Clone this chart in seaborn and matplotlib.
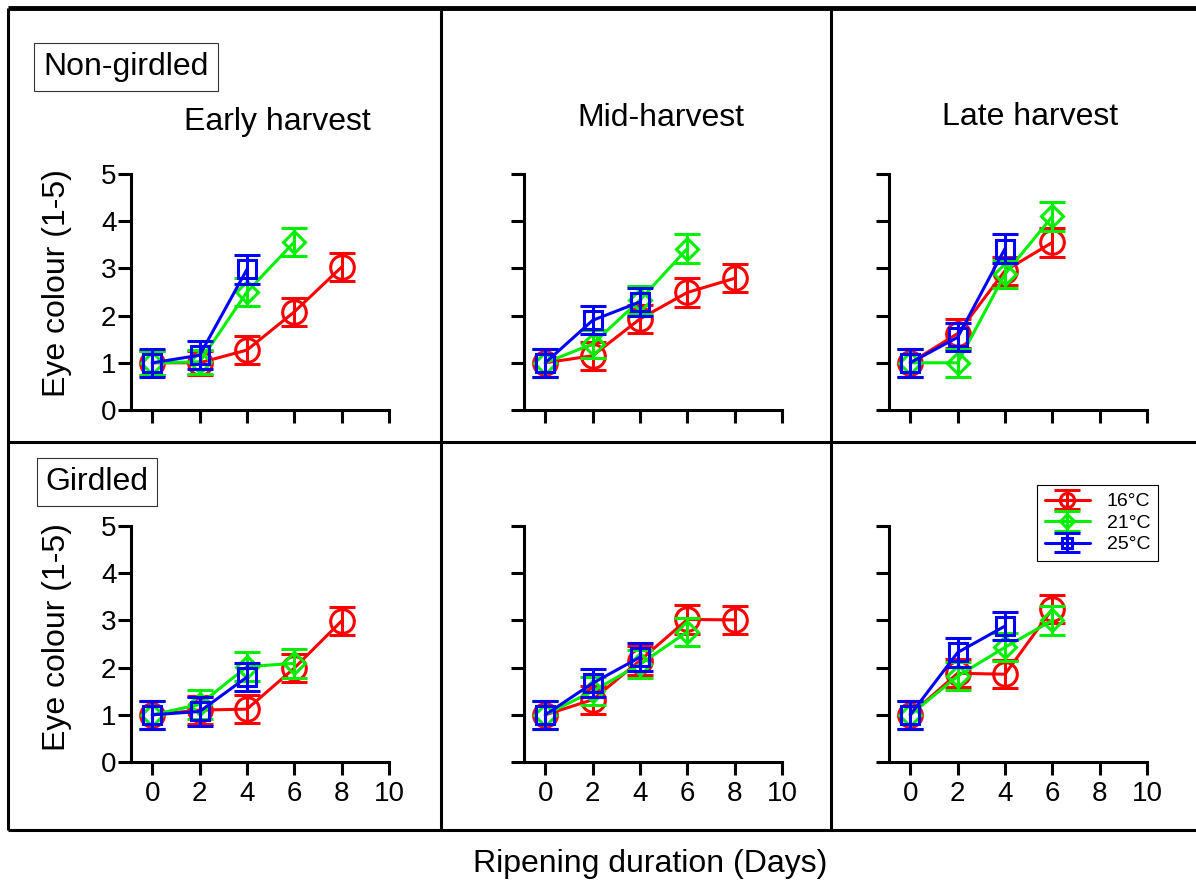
import matplotlib
matplotlib.use("Agg")
import matplotlib.pyplot as plt
import seaborn as sns
from matplotlib.lines import Line2D

# ---------------- data ----------------
days = [0, 2, 4, 6, 8]
temps = ["16°C", "21°C", "25°C"]
colors = ["#FF0000", "#00EE00", "#0000FF"]
markers = ["o", "D", "s"]
harvests = ["Early harvest", "Mid-harvest", "Late harvest"]
treatments = ["Non-girdled", "Girdled"]
x_ticks = [0, 2, 4, 6, 8, 10]
y_ticks = [0, 1, 2, 3, 4, 5]

# Non-girdled
ng_early_16 = [1.0, 1.0, 1.27, 2.08, 3.03]
ng_early_21 = [1.0, 1.02, 2.5, 3.56]
ng_early_25 = [1.0, 1.16, 2.98]
ng_mid_16 = [1.0, 1.15, 1.93, 2.49, 2.79]
ng_mid_21 = [1.0, 1.4, 2.33, 3.42]
ng_mid_25 = [1.0, 1.9, 2.29]
ng_late_16 = [1.0, 1.62, 2.95, 3.55]
ng_late_21 = [1.0, 1.0, 2.88, 4.1]
ng_late_25 = [1.0, 1.54, 3.42]
# Girdled
g_early_16 = [1.0, 1.1, 1.12, 1.99, 2.99]
g_early_21 = [1.0, 1.22, 2.02, 2.09]
g_early_25 = [1.0, 1.07, 1.8]
g_mid_16 = [1.0, 1.32, 2.15, 3.02, 3.01]
g_mid_21 = [1.0, 1.5, 2.07, 2.76]
g_mid_25 = [1.0, 1.67, 2.22]
g_late_16 = [1.0, 1.88, 1.86, 3.24]
g_late_21 = [1.0, 1.82, 2.43, 3.0]
g_late_25 = [1.0, 2.32, 2.88]

# standard errors
ng_early_16_se = [0.25, 0.25, 0.3, 0.3, 0.3]
ng_early_21_se = [0.25, 0.25, 0.3, 0.3]
ng_early_25_se = [0.3, 0.3, 0.3]
ng_mid_16_se = [0.3, 0.3, 0.3, 0.3, 0.3]
ng_mid_21_se = [0.3, 0.3, 0.3, 0.3]
ng_mid_25_se = [0.3, 0.3, 0.3]
ng_late_16_se = [0.3, 0.3, 0.3, 0.3]
ng_late_21_se = [0.3, 0.3, 0.3, 0.3]
ng_late_25_se = [0.3, 0.3, 0.3]
g_early_16_se = [0.3, 0.3, 0.3, 0.3, 0.3]
g_early_21_se = [0.3, 0.3, 0.3, 0.3]
g_early_25_se = [0.3, 0.3, 0.3]
g_mid_16_se = [0.3, 0.3, 0.3, 0.3, 0.3]
g_mid_21_se = [0.3, 0.3, 0.3, 0.3]
g_mid_25_se = [0.3, 0.3, 0.3]
g_late_16_se = [0.3, 0.3, 0.3, 0.3]
g_late_21_se = [0.3, 0.3, 0.3, 0.3]
g_late_25_se = [0.3, 0.3, 0.3]

panels = [
    [[(ng_early_16, ng_early_16_se), (ng_early_21, ng_early_21_se), (ng_early_25, ng_early_25_se)],
     [(ng_mid_16, ng_mid_16_se), (ng_mid_21, ng_mid_21_se), (ng_mid_25, ng_mid_25_se)],
     [(ng_late_16, ng_late_16_se), (ng_late_21, ng_late_21_se), (ng_late_25, ng_late_25_se)]],
    [[(g_early_16, g_early_16_se), (g_early_21, g_early_21_se), (g_early_25, g_early_25_se)],
     [(g_mid_16, g_mid_16_se), (g_mid_21, g_mid_21_se), (g_mid_25, g_mid_25_se)],
     [(g_late_16, g_late_16_se), (g_late_21, g_late_21_se), (g_late_25, g_late_25_se)]],
]

# ---------------- style ----------------
sns.set_theme(style="ticks")
plt.rcParams["font.family"] = ["Liberation Sans", "DejaVu Sans"]
plt.rcParams["text.color"] = "black"

W, H = 1196, 883
fig = plt.figure(figsize=(W / 100, H / 100), dpi=100)
fig.patch.set_facecolor("white")


def fx(px):
    return px / W


def fy(py):
    return 1 - py / H


lefts = [131, 524, 889]
ax_w = 258
row_bottoms = [410, 762]
ax_h = 236
marker_sizes = [17, 11.5, 13]
LW = 2.2

legend_handles = []
for r in range(2):
    for c in range(3):
        ax = fig.add_axes([fx(lefts[c]), fy(row_bottoms[r]), ax_w / W, ax_h / H])
        ax.set_facecolor("white")
        for i, (vals, se) in enumerate(panels[r][c]):
            n = len(vals)
            eb = ax.errorbar(days[:n], vals, yerr=se, fmt="none", ecolor=colors[i],
                             elinewidth=LW, capsize=9.5, capthick=LW,
                             zorder=3 + i, clip_on=False)
            sns.lineplot(x=days[:n], y=vals, ax=ax, color=colors[i], marker=markers[i],
                         markersize=marker_sizes[i], markerfacecolor="none",
                         markeredgecolor=colors[i], markeredgewidth=LW, linewidth=LW,
                         zorder=3 + i, clip_on=False, legend=False)
            line = ax.lines[-1]
            if r == 1 and c == 2:
                legend_handles.append((eb, line))
        ax.set_xlim(-0.9, 10)
        ax.set_ylim(0, 5)
        ax.set_xticks(x_ticks)
        ax.set_yticks(y_ticks)
        ax.set_xlabel("")
        ax.set_ylabel("")
        for s in ["top", "right"]:
            ax.spines[s].set_visible(False)
        for s in ["left", "bottom"]:
            ax.spines[s].set_linewidth(LW)
            ax.spines[s].set_color("black")
        ax.tick_params(axis="both", direction="out", length=9.5, width=LW,
                       color="black", labelsize=20, labelcolor="black")
        ax.tick_params(axis="x", pad=4)
        ax.tick_params(axis="y", pad=1)
        ax.tick_params(labelbottom=(r == 1), labelleft=(c == 0))

        if r == 1 and c == 2:
            leg = ax.legend(legend_handles, temps, loc="upper left",
                            bbox_to_anchor=(fx(1037), fy(485)),
                            bbox_transform=fig.transFigure, borderaxespad=0,
                            frameon=True, fancybox=False, framealpha=1,
                            edgecolor="black", fontsize=14, markerscale=0.6,
                            handlelength=2.3, borderpad=0.4, labelspacing=0.2,
                            handletextpad=0.9)
            leg.get_frame().set_linewidth(0.8)
            for t in leg.get_texts():
                t.set_color("black")

# titles
fs = 23
fig.text(fx(277), fy(122), harvests[0], ha="center", va="center", fontsize=fs)
fig.text(fx(661), fy(118), harvests[1], ha="center", va="center", fontsize=fs)
fig.text(fx(1030), fy(117), harvests[2], ha="center", va="center", fontsize=fs)

# treatment boxes
box = dict(boxstyle="square,pad=0.28", fc="white", ec="#333333", lw=0.8)
fig.text(fx(126), fy(67), treatments[0], ha="center", va="center", fontsize=fs, bbox=box)
fig.text(fx(97), fy(482), treatments[1], ha="center", va="center", fontsize=fs, bbox=box)

# axis labels
fig.text(fx(57), fy(283), "Eye colour (1-5)", rotation=90, ha="center", va="center", fontsize=fs)
fig.text(fx(57), fy(637), "Eye colour (1-5)", rotation=90, ha="center", va="center", fontsize=fs)
fig.text(fx(650), fy(864), "Ripening duration (Days)", ha="center", va="center", fontsize=fs)


# panel borders
def fline(x0, y0, x1, y1, lw=2.2):
    fig.add_artist(Line2D([fx(x0), fx(x1)], [fy(y0), fy(y1)], transform=fig.transFigure,
                          color="black", lw=lw, solid_capstyle="butt"))


fline(8, 8, W, 8, lw=3.5)
fline(8, 8, 8, 830)
fline(8, 830, W, 830)
fline(8, 442, W, 442)
fline(441, 8, 441, 830)
fline(831, 8, 831, 830)

fig.savefig("out.png", dpi=100, facecolor="white")
